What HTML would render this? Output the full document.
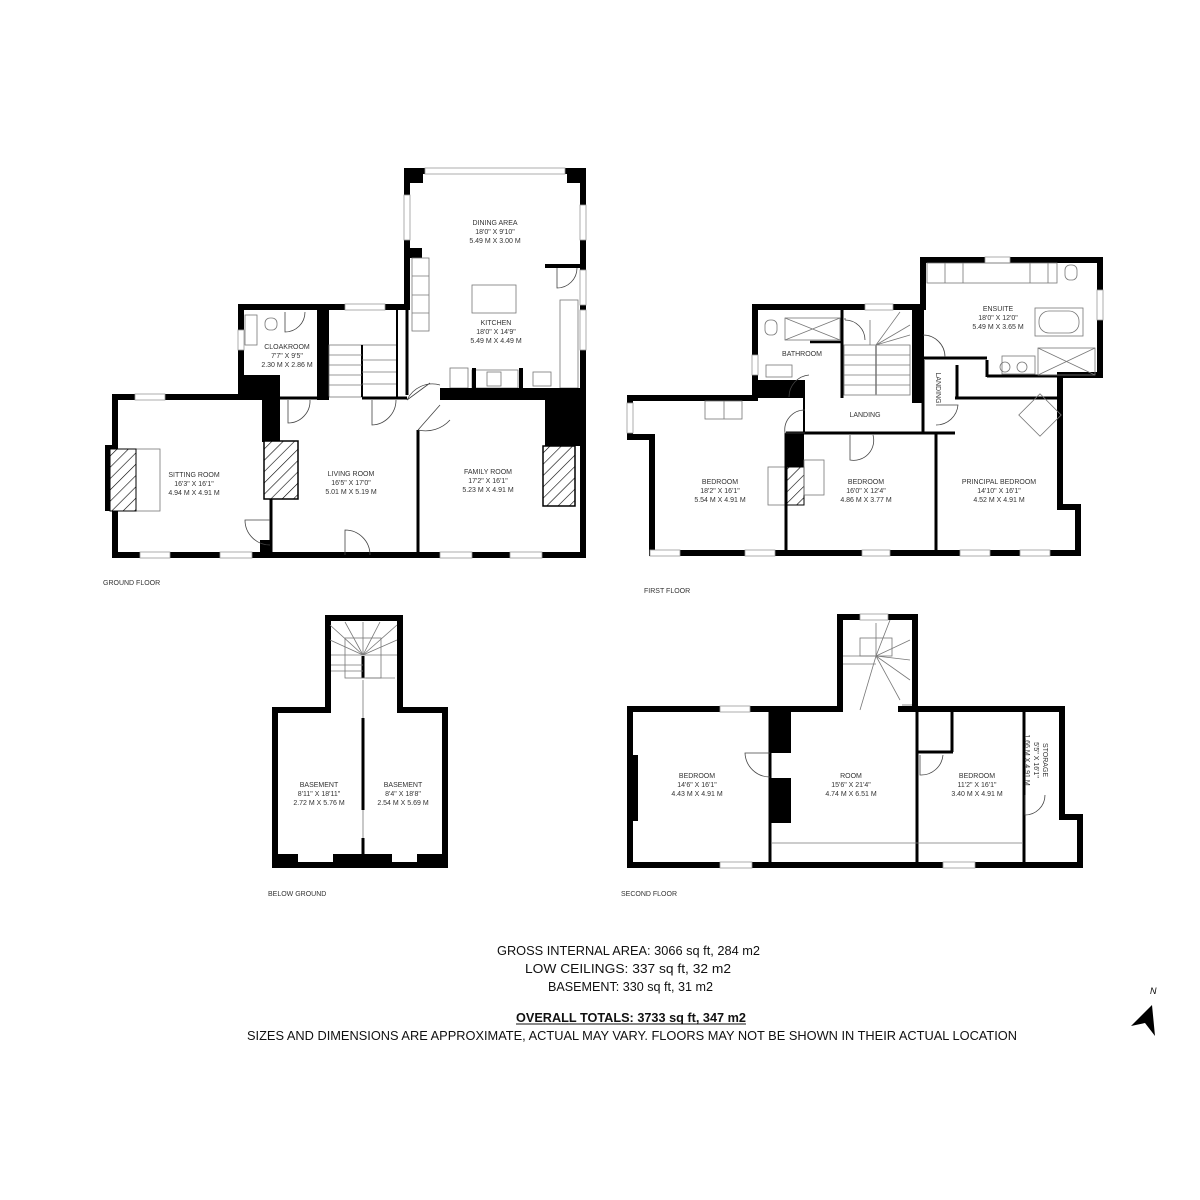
<!DOCTYPE html>
<html><head><meta charset="utf-8"><style>
html,body{margin:0;padding:0;background:#fff;}
svg{display:block;}
.t{font-family:"Liberation Sans",sans-serif;font-size:7px;fill:#333;text-anchor:middle;}
.fl{font-family:"Liberation Sans",sans-serif;font-size:7px;fill:#333;}
.b{font-family:"Liberation Sans",sans-serif;font-size:13px;fill:#111;}
.w{fill:none;stroke:#000;stroke-width:6;stroke-linejoin:miter;stroke-linecap:square;}
.iw{fill:none;stroke:#000;stroke-width:3;}
.th{fill:none;stroke:#777;stroke-width:0.8;}
.win{fill:#fff;stroke:#999;stroke-width:0.8;}
.dr{fill:none;stroke:#444;stroke-width:0.8;}
</style></head><body>
<svg width="1200" height="1200" viewBox="0 0 1200 1200" xmlns="http://www.w3.org/2000/svg">
<defs>
<pattern id="h" width="8" height="8" patternUnits="userSpaceOnUse" patternTransform="rotate(45)">
<rect width="8" height="8" fill="#fff"/><line x1="0" y1="0" x2="0" y2="8" stroke="#000" stroke-width="1.2"/>
</pattern>
</defs>

<!-- ================= GROUND FLOOR ================= -->
<path class="w" d="M115,397 H241 V307 H407 V171 H583 V555 H115 Z"/>
<rect x="407" y="171" width="16" height="12"/>
<rect x="567" y="171" width="16" height="12"/>
<rect x="425" y="168" width="140" height="6" class="win"/>
<rect x="404" y="195" width="6" height="45" class="win"/>
<rect x="580" y="205" width="6" height="35" class="win"/>
<rect x="580" y="270" width="6" height="35" class="win"/>
<rect x="580" y="310" width="6" height="40" class="win"/>
<rect x="407" y="248" width="15" height="10"/>
<rect x="545" y="264" width="38" height="4"/>
<!-- kitchen units -->
<rect x="412" y="258" width="17" height="73" class="th"/>
<line x1="412" y1="276" x2="429" y2="276" class="th"/><line x1="412" y1="295" x2="429" y2="295" class="th"/><line x1="412" y1="313" x2="429" y2="313" class="th"/>
<rect x="472" y="285" width="44" height="28" class="th"/>
<rect x="560" y="300" width="18" height="88" class="th"/>
<rect x="450" y="368" width="18" height="20" class="th"/>
<rect x="472" y="370" width="46" height="18" class="th"/>
<rect x="487" y="372" width="14" height="14" class="th"/>
<rect x="533" y="372" width="18" height="14" class="th"/>
<path class="dr" d="M577,268 A20,20 0 0 1 557,288 L557,268"/>
<!-- kitchen bottom thick wall -->
<rect x="440" y="388" width="143" height="12"/>
<rect x="545" y="388" width="38" height="58"/>
<rect x="543" y="446" width="32" height="60" fill="url(#h)" stroke="#000" stroke-width="1.5"/>
<rect x="472" y="368" width="4" height="20"/><rect x="519" y="368" width="4" height="20"/>
<!-- family room left wall -->
<line x1="418" y1="430" x2="418" y2="555" class="iw"/>
<path class="dr" d="M418,430 L440,405 M418,430 A33,33 0 0 0 450,420"/>
<path class="dr" d="M407,400 L430,383 M407,400 A28,28 0 0 1 440,385"/>
<!-- stair block -->
<line x1="407" y1="307" x2="407" y2="395" class="iw"/>
<rect x="317" y="307" width="12" height="93"/>
<rect x="241" y="375" width="39" height="25"/>
<rect x="262" y="397" width="18" height="45"/>
<rect x="264" y="441" width="34" height="58" fill="url(#h)" stroke="#000" stroke-width="1.5"/>
<line x1="271" y1="499" x2="271" y2="555" class="iw"/>
<rect x="260" y="540" width="12" height="15"/>
<rect x="345" y="304" width="40" height="6" class="win"/>
<rect x="329" y="345" width="68" height="52" class="th"/>
<line x1="362" y1="345" x2="362" y2="397" stroke="#000" stroke-width="2"/>
<g class="th"><line x1="329" y1="355" x2="362" y2="355"/><line x1="329" y1="365" x2="362" y2="365"/><line x1="329" y1="375" x2="362" y2="375"/><line x1="329" y1="385" x2="362" y2="385"/><line x1="362" y1="360" x2="397" y2="360"/><line x1="362" y1="372" x2="397" y2="372"/><line x1="362" y1="384" x2="397" y2="384"/></g>
<line x1="397" y1="307" x2="397" y2="397" stroke="#000" stroke-width="2"/>
<line x1="280" y1="398" x2="329" y2="398" class="iw"/>
<line x1="362" y1="398" x2="407" y2="398" class="iw"/>
<path class="dr" d="M288,400 V423 A22,22 0 0 0 310,400"/>
<path class="dr" d="M372,400 V425 A25,25 0 0 0 396,400"/>
<path class="dr" d="M345,555 V530 A25,25 0 0 1 370,555"/>
<path class="dr" d="M270,520 H245 A25,25 0 0 0 270,545"/>
<!-- cloakroom -->
<rect x="245" y="315" width="12" height="30" class="th"/>
<path class="dr" d="M285,312 V332 A20,20 0 0 0 305,312"/>
<rect x="265" y="318" width="12" height="12" class="th" rx="5"/>
<rect x="238" y="330" width="6" height="20" class="win"/>
<!-- sitting room -->
<rect x="105" y="445" width="10" height="66"/>
<rect x="110" y="449" width="50" height="62" class="th"/>
<rect x="110" y="449" width="26" height="62" fill="url(#h)" stroke="#000" stroke-width="1"/>
<rect x="135" y="394" width="30" height="6" class="win"/>
<rect x="140" y="552" width="30" height="6" class="win"/>
<rect x="220" y="552" width="32" height="6" class="win"/>
<rect x="440" y="552" width="32" height="6" class="win"/>
<rect x="510" y="552" width="32" height="6" class="win"/>
<text class="t" x="194" y="477">SITTING ROOM</text><text class="t" x="194" y="486">16'3" X 16'1"</text><text class="t" x="194" y="495">4.94 M X 4.91 M</text>
<text class="t" x="351" y="476">LIVING ROOM</text><text class="t" x="351" y="485">16'5" X 17'0"</text><text class="t" x="351" y="494">5.01 M X 5.19 M</text>
<text class="t" x="488" y="474">FAMILY ROOM</text><text class="t" x="488" y="483">17'2" X 16'1"</text><text class="t" x="488" y="492">5.23 M X 4.91 M</text>
<text class="t" x="495" y="225">DINING AREA</text><text class="t" x="495" y="234">18'0" X 9'10"</text><text class="t" x="495" y="243">5.49 M X 3.00 M</text>
<text class="t" x="496" y="325">KITCHEN</text><text class="t" x="496" y="334">18'0" X 14'9"</text><text class="t" x="496" y="343">5.49 M X 4.49 M</text>
<text class="t" x="287" y="349">CLOAKROOM</text><text class="t" x="287" y="358">7'7" X 9'5"</text><text class="t" x="287" y="367">2.30 M X 2.86 M</text>
<text class="fl" x="103" y="585">GROUND FLOOR</text>

<!-- ================= FIRST FLOOR ================= -->
<path class="w" d="M630,398 H755 V307 H923 V260 H1100 V375 H1060 V507 H1078 V553 H652 V437 H630 Z"/>
<rect x="985" y="257" width="25" height="6" class="win"/>
<rect x="1097" y="290" width="6" height="30" class="win"/>
<rect x="865" y="304" width="28" height="6" class="win"/>
<rect x="627" y="403" width="6" height="30" class="win"/>
<rect x="752" y="355" width="6" height="20" class="win"/>
<line x1="987" y1="360" x2="987" y2="377" class="iw"/><line x1="987" y1="376" x2="1060" y2="376" class="iw"/>
<line x1="923" y1="358" x2="987" y2="358" class="iw"/>
<line x1="955" y1="398" x2="1060" y2="398" class="iw"/>
<line x1="957" y1="365" x2="957" y2="398" class="iw"/>
<line x1="923" y1="360" x2="923" y2="433" class="iw"/>
<rect x="912" y="307" width="12" height="96"/>
<rect x="755" y="380" width="50" height="18"/>
<rect x="785" y="433" width="19" height="35"/>
<rect x="785" y="467" width="19" height="38" fill="url(#h)" stroke="#000" stroke-width="1"/>
<rect x="768" y="467" width="18" height="38" class="th"/><rect x="804" y="460" width="20" height="35" class="th"/>
<line x1="786" y1="433" x2="786" y2="553" class="iw"/>
<line x1="936" y1="433" x2="936" y2="553" class="iw"/>
<line x1="786" y1="433" x2="955" y2="433" class="iw"/>
<line x1="804" y1="398" x2="804" y2="433" stroke="#000" stroke-width="2"/>
<line x1="842" y1="307" x2="842" y2="398" stroke="#000" stroke-width="3"/>
<line x1="810" y1="342" x2="842" y2="342" stroke="#000" stroke-width="2.5"/>
<rect x="785" y="318" width="55" height="22" class="th"/>
<path class="th" d="M785,318 L840,340 M785,340 L840,318"/>
<rect x="765" y="320" width="12" height="15" rx="5" class="th"/>
<rect x="766" y="365" width="26" height="12" class="th"/>
<g class="th"><rect x="844" y="345" width="66" height="50"/><line x1="876" y1="345" x2="876" y2="395" stroke="#999" stroke-width="2"/><line x1="844" y1="355" x2="910" y2="355"/><line x1="844" y1="365" x2="910" y2="365"/><line x1="844" y1="375" x2="910" y2="375"/><line x1="844" y1="385" x2="910" y2="385"/><line x1="876" y1="345" x2="900" y2="312"/><line x1="876" y1="345" x2="910" y2="325"/><line x1="876" y1="345" x2="910" y2="335"/><line x1="870" y1="320" x2="870" y2="345"/></g>
<path class="dr" d="M845,320 A20,20 0 0 1 865,340 M845,318 V320"/>
<path class="dr" d="M805,433 H785 A20,20 0 0 1 805,410"/>
<path class="dr" d="M850,435 V460 A20,20 0 0 0 873,435"/>
<path class="dr" d="M936,405 H958 A22,22 0 0 1 936,425"/>
<path class="dr" d="M923,335 A22,22 0 0 1 945,357"/>
<path class="dr" d="M809,375 A22,22 0 0 0 789,397"/>
<!-- ensuite fixtures -->
<rect x="927" y="263" width="130" height="20" class="th"/>
<line x1="945" y1="263" x2="945" y2="283" class="th"/><line x1="963" y1="263" x2="963" y2="283" class="th"/><line x1="1030" y1="263" x2="1030" y2="283" class="th"/><line x1="1048" y1="263" x2="1048" y2="283" class="th"/>
<rect x="1035" y="308" width="48" height="28" class="th"/><rect x="1039" y="311" width="40" height="22" rx="10" class="th"/>
<rect x="1038" y="348" width="57" height="27" class="th"/><path class="th" d="M1038,348 L1095,375 M1038,375 L1095,348"/>
<rect x="1002" y="356" width="33" height="18" class="th"/>
<circle cx="1005" cy="367" r="5" class="th"/><circle cx="1022" cy="367" r="5" class="th"/>
<rect x="1065" y="265" width="12" height="15" rx="5" class="th"/>
<rect x="1025" y="400" width="30" height="30" class="th" transform="rotate(-45 1040 415)"/>
<rect x="650" y="550" width="30" height="6" class="win"/><rect x="745" y="550" width="30" height="6" class="win"/>
<rect x="862" y="550" width="28" height="6" class="win"/>
<rect x="960" y="550" width="30" height="6" class="win"/><rect x="1020" y="550" width="30" height="6" class="win"/>
<rect x="705" y="401" width="37" height="18" class="th"/><line x1="724" y1="401" x2="724" y2="419" class="th"/>
<text class="t" x="720" y="484">BEDROOM</text><text class="t" x="720" y="493">18'2" X 16'1"</text><text class="t" x="720" y="502">5.54 M X 4.91 M</text>
<text class="t" x="866" y="484">BEDROOM</text><text class="t" x="866" y="493">16'0" X 12'4"</text><text class="t" x="866" y="502">4.86 M X 3.77 M</text>
<text class="t" x="999" y="484">PRINCIPAL BEDROOM</text><text class="t" x="999" y="493">14'10" X 16'1"</text><text class="t" x="999" y="502">4.52 M X 4.91 M</text>
<text class="t" x="998" y="311">ENSUITE</text><text class="t" x="998" y="320">18'0" X 12'0"</text><text class="t" x="998" y="329">5.49 M X 3.65 M</text>
<text class="t" x="802" y="356">BATHROOM</text>
<text class="t" x="865" y="417">LANDING</text>
<text class="t" transform="translate(936,388) rotate(90)">LANDING</text>
<text class="fl" x="644" y="593">FIRST FLOOR</text>

<!-- ================= BELOW GROUND ================= -->
<path class="w" d="M275,710 H328 V618 H400 V710 H445 V865 H275 Z"/>
<rect x="275" y="854" width="170" height="11"/>
<rect x="298" y="854" width="35" height="8" fill="#fff"/>
<rect x="392" y="854" width="25" height="8" fill="#fff"/>
<line x1="363" y1="718" x2="363" y2="810" class="iw"/><line x1="363" y1="838" x2="363" y2="865" class="iw"/>
<line x1="363" y1="810" x2="363" y2="838" class="th"/>
<line x1="363" y1="680" x2="363" y2="718" class="th"/>
<line x1="363" y1="656" x2="363" y2="678" stroke="#000" stroke-width="3"/>
<line x1="366" y1="678" x2="395" y2="678" class="th"/>
<g class="th"><line x1="331" y1="655" x2="397" y2="655"/><line x1="331" y1="665" x2="363" y2="665"/><line x1="331" y1="671" x2="363" y2="671"/><line x1="363" y1="655" x2="330" y2="625"/><line x1="363" y1="655" x2="345" y2="622"/><line x1="363" y1="655" x2="363" y2="622"/><line x1="363" y1="655" x2="380" y2="622"/><line x1="363" y1="655" x2="397" y2="625"/><line x1="363" y1="655" x2="397" y2="640"/><line x1="363" y1="655" x2="330" y2="640"/><rect x="345" y="638" width="36" height="40"/></g>
<text class="t" x="319" y="787">BASEMENT</text><text class="t" x="319" y="796">8'11" X 18'11"</text><text class="t" x="319" y="805">2.72 M X 5.76 M</text>
<text class="t" x="403" y="787">BASEMENT</text><text class="t" x="403" y="796">8'4" X 18'8"</text><text class="t" x="403" y="805">2.54 M X 5.69 M</text>
<text class="fl" x="268" y="896">BELOW GROUND</text>

<!-- ================= SECOND FLOOR ================= -->
<path class="w" d="M630,709 H840 V617 H915 V709 H1062 V817 H1080 V865 H630 Z"/>
<rect x="860" y="614" width="28" height="6" class="win"/>
<rect x="720" y="706" width="30" height="6" class="win"/>
<rect x="720" y="862" width="32" height="6" class="win"/>
<rect x="943" y="862" width="32" height="6" class="win"/>
<rect x="843" y="705" width="55" height="8" fill="#fff"/>
<line x1="898" y1="709" x2="915" y2="709" stroke="#000" stroke-width="6"/>
<line x1="770" y1="709" x2="770" y2="865" class="iw"/>
<rect x="770" y="709" width="21" height="44"/>
<rect x="770" y="778" width="21" height="45"/>
<rect x="630" y="755" width="8" height="66"/>
<line x1="917" y1="709" x2="917" y2="865" class="iw"/>
<line x1="917" y1="752" x2="953" y2="752" class="iw"/><line x1="952" y1="709" x2="952" y2="752" class="iw"/>
<line x1="1024" y1="709" x2="1024" y2="865" class="iw"/>
<line x1="772" y1="843" x2="1022" y2="843" class="th"/>
<path class="dr" d="M770,753 H745 A25,25 0 0 0 770,777"/>
<path class="dr" d="M920,755 V775 A22,22 0 0 0 943,755"/>
<path class="dr" d="M1025,795 V815 A20,20 0 0 0 1045,795"/>
<g class="th"><line x1="843" y1="656" x2="876" y2="656"/><line x1="843" y1="664" x2="876" y2="664"/><rect x="860" y="638" width="32" height="18"/><line x1="876" y1="656" x2="876" y2="623"/><line x1="876" y1="656" x2="890" y2="620"/><line x1="876" y1="656" x2="910" y2="640"/><line x1="876" y1="656" x2="910" y2="660"/><line x1="876" y1="656" x2="910" y2="680"/><line x1="876" y1="656" x2="900" y2="700"/><line x1="876" y1="656" x2="860" y2="710"/><line x1="902" y1="705" x2="912" y2="705"/></g>
<text class="t" x="697" y="778">BEDROOM</text><text class="t" x="697" y="787">14'6" X 16'1"</text><text class="t" x="697" y="796">4.43 M X 4.91 M</text>
<text class="t" x="851" y="778">ROOM</text><text class="t" x="851" y="787">15'6" X 21'4"</text><text class="t" x="851" y="796">4.74 M X 6.51 M</text>
<text class="t" x="977" y="778">BEDROOM</text><text class="t" x="977" y="787">11'2" X 16'1"</text><text class="t" x="977" y="796">3.40 M X 4.91 M</text>
<g transform="translate(1043,760) rotate(90)"><text class="t" x="0" y="0">STORAGE</text><text class="t" x="0" y="9">5'5" X 16'1"</text><text class="t" x="0" y="18">1.66 M X 4.91 M</text></g>
<text class="fl" x="621" y="896">SECOND FLOOR</text>

<!-- ================= TOTALS ================= -->
<text class="b" x="497" y="955" textLength="263" lengthAdjust="spacingAndGlyphs">GROSS INTERNAL AREA: 3066 sq ft, 284 m2</text>
<text class="b" x="525" y="973" textLength="206" lengthAdjust="spacingAndGlyphs">LOW CEILINGS: 337 sq ft, 32 m2</text>
<text class="b" x="548" y="991" textLength="165" lengthAdjust="spacingAndGlyphs">BASEMENT: 330 sq ft, 31 m2</text>
<text class="b" x="516" y="1022" textLength="230" lengthAdjust="spacingAndGlyphs" font-weight="bold">OVERALL TOTALS: 3733 sq ft, 347 m2</text>
<line x1="516" y1="1024" x2="746" y2="1024" stroke="#111" stroke-width="1"/>
<text class="b" x="247" y="1040" textLength="770" lengthAdjust="spacingAndGlyphs">SIZES AND DIMENSIONS ARE APPROXIMATE, ACTUAL MAY VARY.  FLOORS MAY NOT BE SHOWN IN THEIR ACTUAL LOCATION</text>

<!-- compass -->
<path d="M1152,1005 L1131,1026 L1145,1023 L1155,1036 Z" fill="#000"/>
<text x="1150" y="994" font-family="Liberation Sans,sans-serif" font-size="9" font-style="italic">N</text>
</svg>
</body></html>
